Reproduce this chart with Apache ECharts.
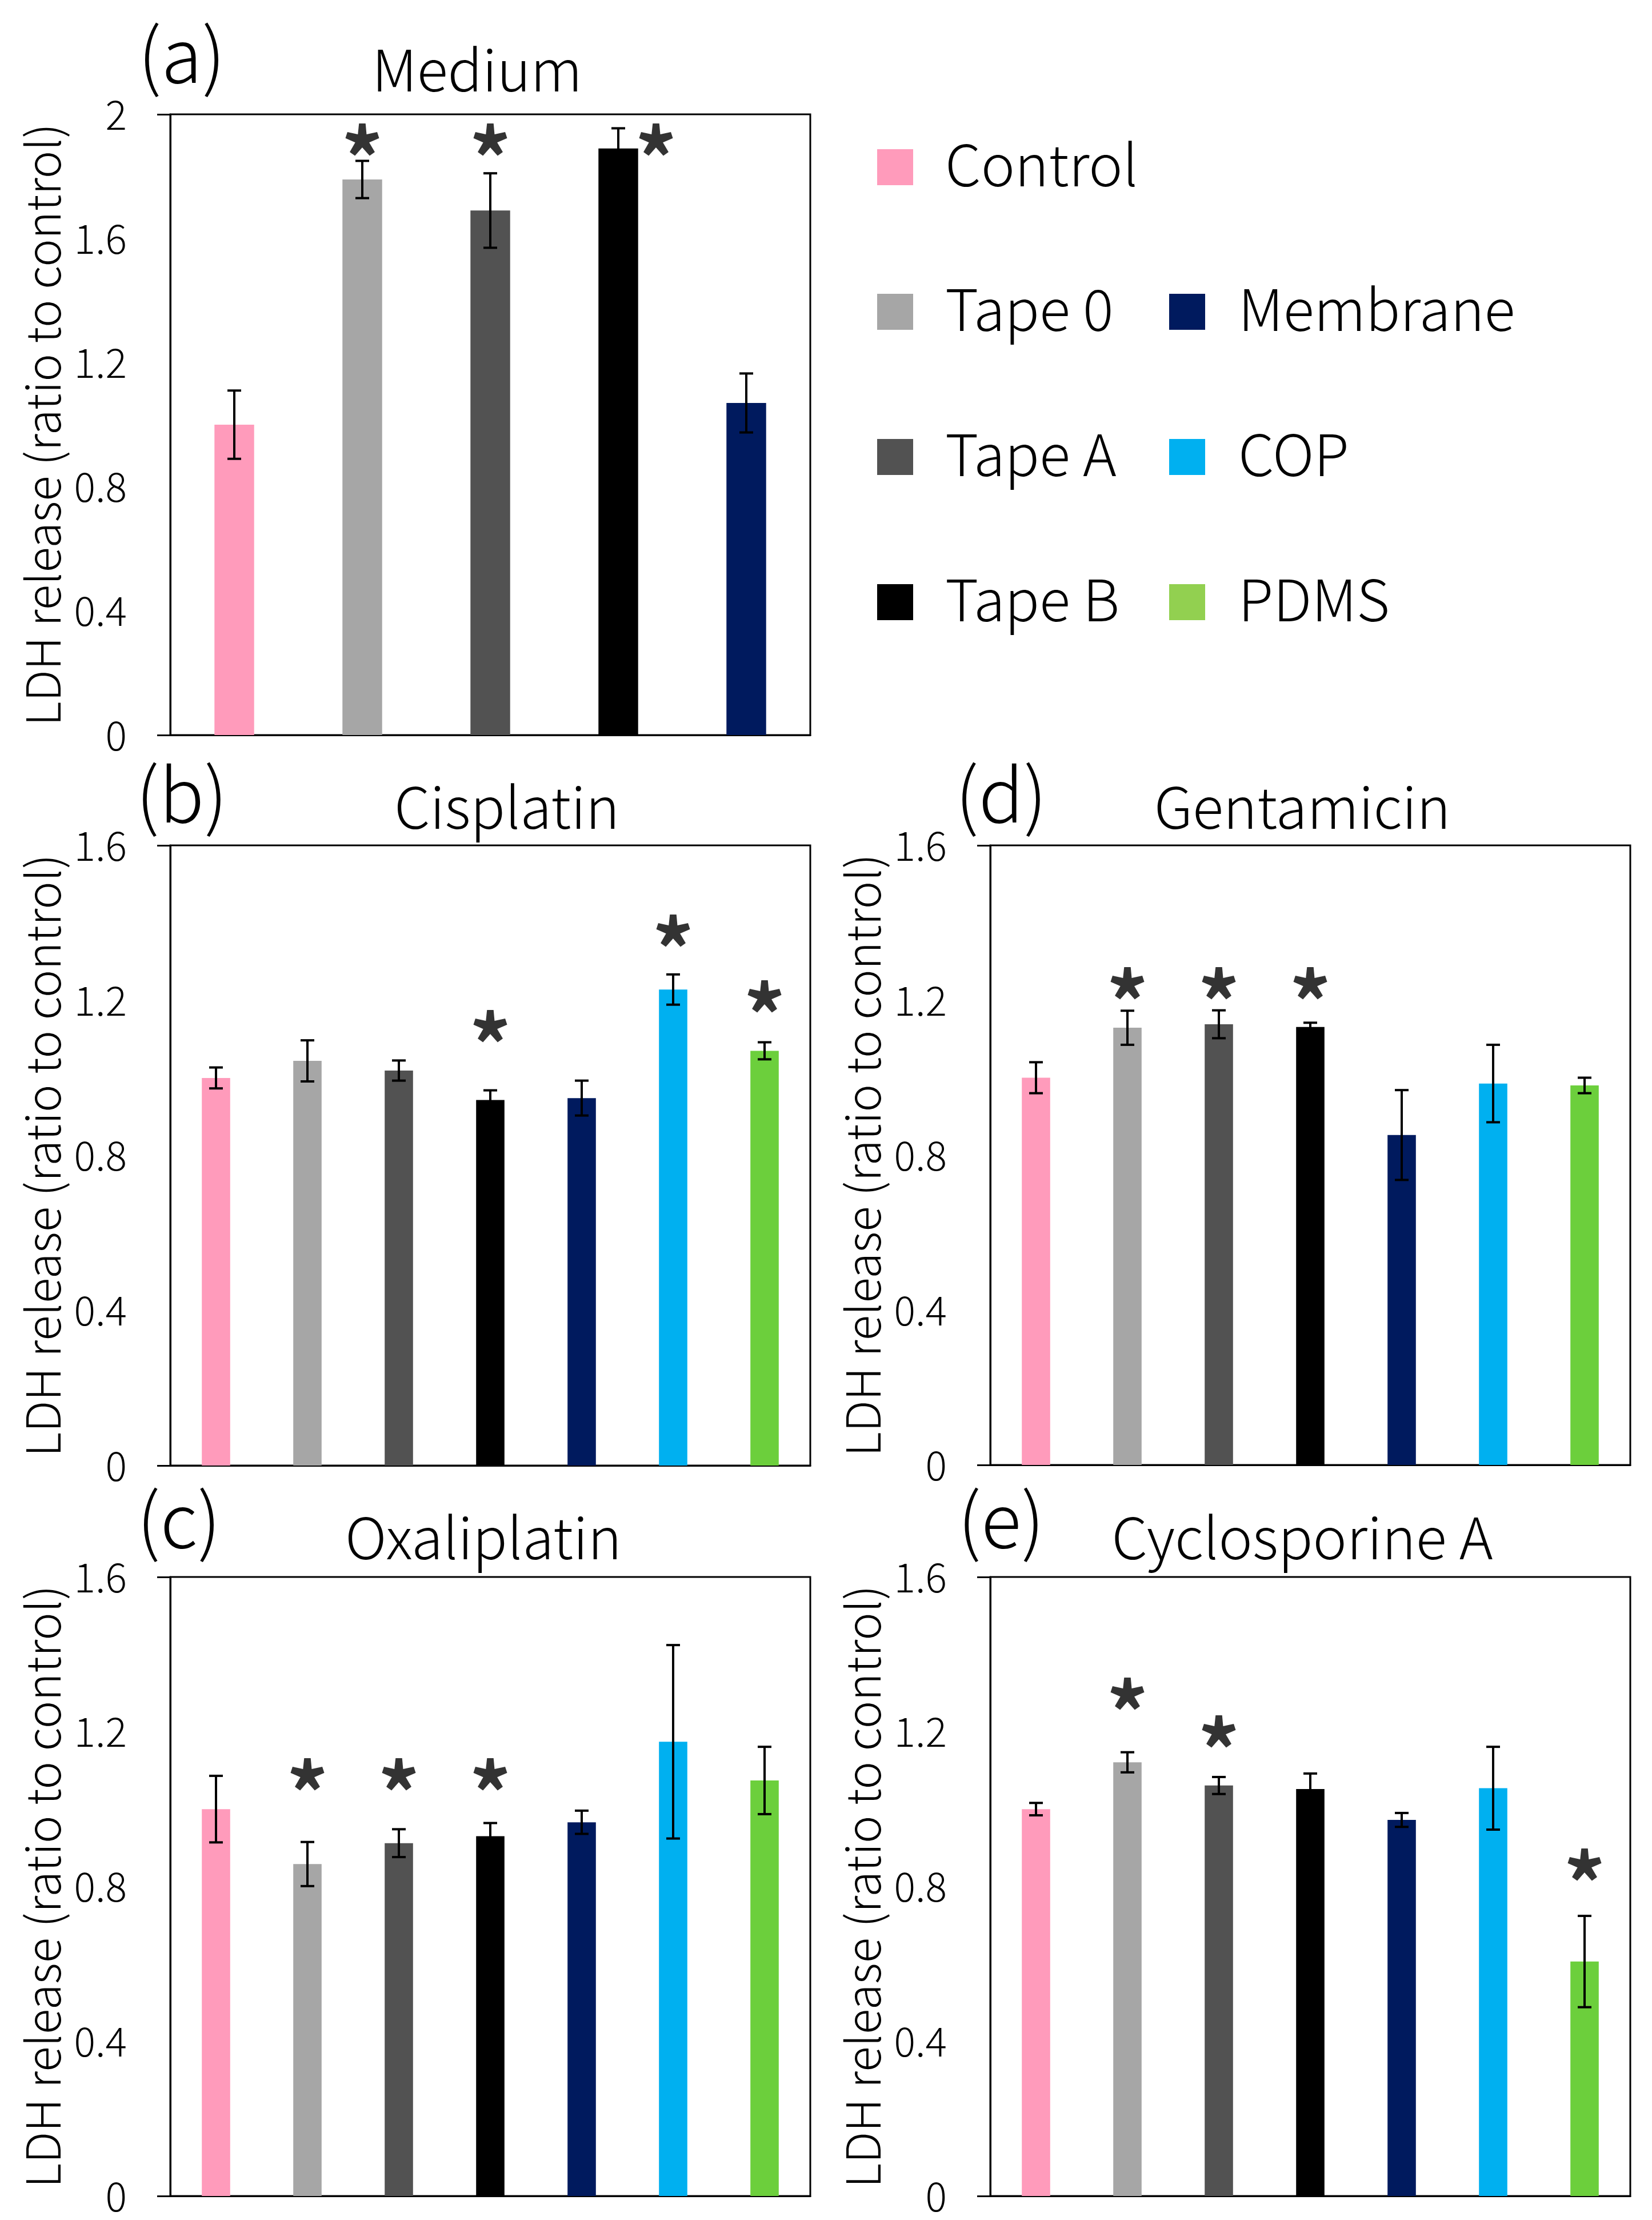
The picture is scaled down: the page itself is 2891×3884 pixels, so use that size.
<!DOCTYPE html>
<html><head><meta charset="utf-8">
<script src="https://cdn.jsdelivr.net/npm/echarts@6/dist/echarts.min.js"></script>
<style>html,body{margin:0;padding:0;background:#fff}#c{width:2891px;height:3884px}</style>
</head><body><div id="c"></div>
<script>
// ---------------- DATA ----------------
const groups = ['Control', 'Tape 0', 'Tape A', 'Tape B', 'Membrane', 'COP', 'PDMS'];
const mediumGroups = ['Control', 'Tape 0', 'Tape A', 'Tape B', 'Membrane'];
const panelLetters = ['(a)', '(b)', '(c)', '(d)', '(e)'];
const panelTitles = ['Medium', 'Cisplatin', 'Oxaliplatin', 'Gentamicin', 'Cyclosporine A'];
const yAxisName = 'LDH release (ratio to control)';
const yMaxValues = [2, 1.6, 1.6, 1.6, 1.6];
const yStep = 0.4;

const mediumMean = [1.00, 1.79, 1.69, 1.89, 1.07];
const mediumErr  = [0.11, 0.06, 0.12, 0.065, 0.095];
const mediumStars = [[1, 1.91], [2, 1.91], [3, 1.91]];

const cisplatinMean = [1.00, 1.044, 1.019, 0.943, 0.948, 1.228, 1.070];
const cisplatinErr  = [0.027, 0.053, 0.026, 0.025, 0.045, 0.039, 0.022];
const cisplatinStars = [[3, 1.127], [5, 1.373], [6, 1.203]];

const oxaliplatinMean = [1.00, 0.858, 0.912, 0.930, 0.966, 1.174, 1.074];
const oxaliplatinErr  = [0.086, 0.057, 0.036, 0.034, 0.030, 0.250, 0.087];
const oxaliplatinStars = [[1, 1.083], [2, 1.083], [3, 1.083]];

const gentamicinMean = [1.00, 1.129, 1.138, 1.131, 0.852, 0.985, 0.980];
const gentamicinErr  = [0.040, 0.044, 0.036, 0.011, 0.116, 0.100, 0.020];
const gentamicinStars = [[1, 1.237], [2, 1.237], [3, 1.237]];

const cyclosporineMean = [1.00, 1.121, 1.061, 1.052, 0.972, 1.054, 0.606];
const cyclosporineErr  = [0.016, 0.026, 0.022, 0.040, 0.018, 0.107, 0.118];
const cyclosporineStars = [[1, 1.292], [2, 1.194], [6, 0.849]];

// ---------------- STYLE / LAYOUT ----------------
const barColors = ['#FF9BBB', '#A6A6A6', '#525252', '#000000', '#001A5E', '#00B0F0', '#6CCF3C'];
const legendColors = ['#FF9BBB', '#A6A6A6', '#525252', '#000000', '#001A5E', '#00B0F0', '#92D050'];
const FONT = '"Noto Sans CJK JP", "Noto Sans", sans-serif';
const LIGHT = 300;

const panels = [
  { cats: mediumGroups, mean: mediumMean, err: mediumErr, stars: mediumStars, box: [298, 200, 1120, 1086], letterPos: [318, 96], titlePos: [835, 122], starShift: {3: 66} },
  { cats: groups, mean: cisplatinMean, err: cisplatinErr, stars: cisplatinStars, box: [298, 1479, 1120, 1085], letterPos: [318, 1390], titlePos: [887, 1412], starShift: {} },
  { cats: groups, mean: oxaliplatinMean, err: oxaliplatinErr, stars: oxaliplatinStars, box: [298, 2759, 1120, 1083], letterPos: [313, 2659], titlePos: [846, 2690], starShift: {} },
  { cats: groups, mean: gentamicinMean, err: gentamicinErr, stars: gentamicinStars, box: [1733, 1479, 1120, 1084], letterPos: [1752, 1390], titlePos: [2279, 1412], starShift: {} },
  { cats: groups, mean: cyclosporineMean, err: cyclosporineErr, stars: cyclosporineStars, box: [1733, 2759, 1120, 1083], letterPos: [1752, 2659], titlePos: [2279, 2690], starShift: {} }
];

const legendCols = [[0, 1, 2, 3], [null, 4, 5, 6]];
const legendColX = [1566, 2077];
const legendTextX = [1654, 2167];
const legendRowY = [292, 545, 799, 1053];

// ---------------- BUILD ----------------
function errRender(params, api) {
  const x = api.value(0), m = api.value(1), e = api.value(2);
  const top = api.coord([x, m + e]);
  const bot = api.coord([x, m - e]);
  const hw = 12;
  const style = { stroke: '#000', lineWidth: 4 };
  return {
    type: 'group',
    children: [
      { type: 'line', shape: { x1: top[0], y1: top[1], x2: bot[0], y2: bot[1] }, style: style },
      { type: 'line', shape: { x1: top[0] - hw, y1: top[1], x2: top[0] + hw, y2: top[1] }, style: style },
      { type: 'line', shape: { x1: bot[0] - hw, y1: bot[1], x2: bot[0] + hw, y2: bot[1] }, style: style }
    ]
  };
}

const grid = [], xAxis = [], yAxis = [], series = [], graphic = [];

panels.forEach((p, i) => {
  grid.push({ left: p.box[0], top: p.box[1], width: p.box[2], height: p.box[3], show: true, borderColor: '#000', borderWidth: 3, backgroundColor: '#fff' });
  xAxis.push({
    type: 'category', gridIndex: i, data: p.cats,
    axisLine: { show: true, lineStyle: { color: '#000', width: 3 } },
    axisTick: { show: false }, axisLabel: { show: false }, splitLine: { show: false }
  });
  yAxis.push({
    type: 'value', gridIndex: i, min: 0, max: yMaxValues[i], interval: yStep,
    name: yAxisName, nameLocation: 'middle', nameGap: 182,
    nameTextStyle: { fontFamily: FONT, fontSize: 82, fontWeight: LIGHT, color: '#000' },
    axisLine: { show: true, lineStyle: { color: '#000', width: 3 } },
    axisTick: { show: true, length: 23, customValues: [0, yMaxValues[i]], lineStyle: { color: '#000', width: 3 } },
    axisLabel: { fontFamily: FONT, fontSize: 70, fontWeight: LIGHT, color: '#000', margin: 76 },
    splitLine: { show: false }
  });
  series.push({
    type: 'bar', xAxisIndex: i, yAxisIndex: i, barWidth: '31%',
    data: p.mean.map((v, k) => ({ value: v, itemStyle: { color: barColors[k] } })),
    silent: true, animation: false
  });
  series.push({
    type: 'custom', xAxisIndex: i, yAxisIndex: i, renderItem: errRender,
    data: p.mean.map((v, k) => [k, v, p.err[k]]),
    encode: { x: 0, y: 1 }, z: 5, silent: true, animation: false
  });
  series.push({
    type: 'scatter', xAxisIndex: i, yAxisIndex: i, symbolSize: 1,
    itemStyle: { color: 'rgba(0,0,0,0)' }, z: 6, silent: true, animation: false,
    data: p.stars.map(s => ({
      value: s,
      label: { offset: [p.starShift[s[0]] || 0, 29] }
    })),
    label: { show: true, position: 'inside', formatter: '*', fontFamily: FONT, fontSize: 145, fontWeight: 'bold', color: '#000' }
  });
  graphic.push({ type: 'text', x: p.letterPos[0], y: p.letterPos[1], style: { text: panelLetters[i], fontFamily: FONT, fontSize: 130, fontWeight: LIGHT, fill: '#000', align: 'center', verticalAlign: 'middle' } });
  graphic.push({ type: 'text', x: p.titlePos[0], y: p.titlePos[1], style: { text: panelTitles[i], fontFamily: FONT, fontSize: 100, fontWeight: LIGHT, fill: '#000', align: 'center', verticalAlign: 'middle' } });
});

legendCols.forEach((col, c) => {
  col.forEach((gi, r) => {
    if (gi === null) return;
    const cx = legendColX[c], cy = legendRowY[r];
    graphic.push({ type: 'rect', shape: { x: cx - 31, y: cy - 31, width: 63, height: 63 }, style: { fill: legendColors[gi] } });
    graphic.push({ type: 'text', x: legendTextX[c], y: cy - 4, style: { text: groups[gi], fontFamily: FONT, fontSize: 100, fontWeight: LIGHT, fill: '#000', align: 'left', verticalAlign: 'middle' } });
  });
});

const chart = echarts.init(document.getElementById('c'), null, { renderer: 'canvas' });
chart.setOption({ backgroundColor: '#fff', animation: false, grid, xAxis, yAxis, series, graphic });
</script></body></html>
